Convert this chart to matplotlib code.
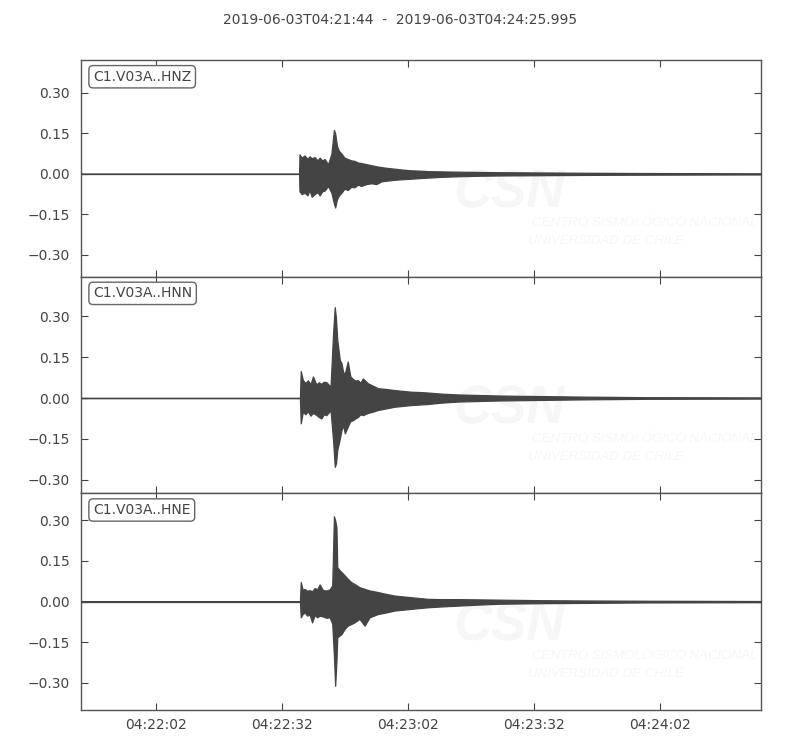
import datetime as dt
import numpy as np
import matplotlib
matplotlib.use("Agg")
import matplotlib.pyplot as plt
import matplotlib.dates as mdates
from matplotlib.ticker import FuncFormatter, FixedLocator

# ---------------- data (seconds after 2019-06-03T04:21:44) ----------------
title = "2019-06-03T04:21:44  -  2019-06-03T04:24:25.995"
channels = ["C1.V03A..HNZ", "C1.V03A..HNN", "C1.V03A..HNE"]
duration = 161.995

hnz_t = [0, 52.0, 52.1, 52.6, 53.3, 54.0, 54.5, 55.0, 55.7, 56.4, 56.9, 57.5, 58.1, 58.9,
         59.7, 60.3, 60.6, 61.0, 61.5, 62.1, 62.8, 63.6, 64.4, 65.2, 66.0, 66.8, 68.0, 69.2,
         70.4, 71.6, 73.0, 74.8, 76.5, 78.7, 80.5, 82.7, 86.0, 89.9, 95, 100, 110, 120, 135, 161.995]
hnz_up = [0, 0, 0.072, 0.060, 0.068, 0.055, 0.065, 0.058, 0.062, 0.050, 0.060, 0.050, 0.055, 0.035,
          0.075, 0.163, 0.150, 0.105, 0.085, 0.075, 0.060, 0.055, 0.050, 0.048, 0.042, 0.040, 0.036, 0.032,
          0.028, 0.025, 0.022, 0.019, 0.016, 0.013, 0.012, 0.010, 0.009, 0.008, 0.007, 0.006, 0.005, 0.004, 0.003, 0.002]
hnz_lo = [0, 0, -0.065, -0.075, -0.070, -0.080, -0.060, -0.085, -0.075, -0.068, -0.080, -0.065, -0.062, -0.045,
          -0.070, -0.110, -0.125, -0.095, -0.080, -0.070, -0.055, -0.060, -0.048, -0.050, -0.040, -0.045, -0.038, -0.035,
          -0.038, -0.028, -0.025, -0.022, -0.020, -0.018, -0.016, -0.014, -0.011, -0.009, -0.007, -0.006, -0.005, -0.004, -0.003, -0.002]

hnn_t = [0, 52.2, 52.4, 52.9, 53.5, 54.1, 54.7, 55.3, 56.1, 56.7, 57.3, 57.9, 58.5, 59.5,
         60.1, 60.5, 60.8, 61.1, 61.7, 62.1, 62.5, 62.9, 63.6, 64.2, 64.8, 65.4, 66.0, 66.6, 67.2,
         68.4, 69.6, 70.8, 72.8, 74.8, 76.8, 78.7, 80.7, 82.7, 86, 89.9, 95, 100, 110, 120, 135, 161.995]
hnn_up = [0, 0, 0.099, 0.066, 0.055, 0.065, 0.050, 0.079, 0.050, 0.058, 0.052, 0.060, 0.058, 0.042,
          0.238, 0.334, 0.290, 0.213, 0.140, 0.128, 0.095, 0.090, 0.134, 0.080, 0.070, 0.064, 0.066, 0.056, 0.072,
          0.054, 0.045, 0.036, 0.033, 0.029, 0.026, 0.023, 0.022, 0.020, 0.016, 0.013, 0.011, 0.009, 0.007, 0.005, 0.003, 0.002]
hnn_lo = [0, 0, -0.093, -0.050, -0.060, -0.048, -0.065, -0.055, -0.062, -0.070, -0.075, -0.060, -0.063, -0.045,
          -0.155, -0.253, -0.240, -0.191, -0.150, -0.118, -0.100, -0.130, -0.105, -0.085, -0.082, -0.075, -0.070, -0.060, -0.063,
          -0.055, -0.050, -0.044, -0.038, -0.032, -0.029, -0.026, -0.024, -0.022, -0.017, -0.013, -0.011, -0.009, -0.007, -0.005, -0.003, -0.002]

hne_t = [0, 52.2, 52.4, 52.9, 53.3, 53.9, 54.5, 55.1, 55.7, 56.3, 56.9, 57.7, 58.5, 59.3, 59.9,
         60.3, 60.6, 60.9, 61.1, 61.7, 62.1, 62.9, 63.6, 64.4, 65.2, 66.4, 67.6, 68.8, 70.8, 72.8,
         74.8, 76.8, 78.7, 80.7, 82.7, 86, 89.9, 95, 100, 110, 120, 135, 161.995]
hne_up = [0, 0, 0.072, 0.041, 0.047, 0.040, 0.042, 0.038, 0.050, 0.045, 0.063, 0.042, 0.041, 0.045, 0.060,
          0.315, 0.300, 0.275, 0.127, 0.115, 0.109, 0.096, 0.084, 0.072, 0.065, 0.053, 0.047, 0.041, 0.035, 0.028,
          0.022, 0.019, 0.016, 0.013, 0.010, 0.009, 0.009, 0.008, 0.007, 0.005, 0.004, 0.003, 0.002]
hne_lo = [0, 0, -0.058, -0.045, -0.040, -0.052, -0.048, -0.077, -0.050, -0.058, -0.052, -0.055, -0.060, -0.058, -0.082,
          -0.200, -0.311, -0.219, -0.132, -0.125, -0.120, -0.100, -0.089, -0.083, -0.077, -0.064, -0.089, -0.058, -0.046, -0.040,
          -0.033, -0.030, -0.027, -0.024, -0.021, -0.018, -0.015, -0.011, -0.008, -0.006, -0.005, -0.003, -0.002]

ylims = [(-0.381, 0.422), (-0.35, 0.446), (-0.40, 0.40)]
yticks = [-0.30, -0.15, 0.00, 0.15, 0.30]

series = [(hnz_t, hnz_up, hnz_lo), (hnn_t, hnn_up, hnn_lo), (hne_t, hne_up, hne_lo)]

# ---------------- plotting ----------------
plt.rcParams['font.family'] = ['DejaVu Sans']
GREY = '#444444'
WM = '#f6f6f6'
start = dt.datetime(2019, 6, 3, 4, 21, 44)
start_num = mdates.date2num(start)

fig = plt.figure(figsize=(8, 7.5), dpi=100)
left, right, top, bottom = 0.101, 0.951, 0.92, 0.0535
h = (top - bottom) / 3.0

fmt = FuncFormatter(lambda v, p: ("%.2f" % v).replace('-', '\u2212'))

axes = []
for i, (name, (t, up, lo)) in enumerate(zip(channels, series)):
    ax = fig.add_axes([left, top - (i + 1) * h, right - left, h])
    axes.append(ax)
    x = start_num + np.array(t) / 86400.0
    ax.fill_between(x, up, lo, color=GREY, linewidth=0.9, edgecolor=GREY, zorder=3)
    ax.plot(x, np.zeros(len(x)), color=GREY, linewidth=0.9, zorder=3)
    ax.set_xlim(start_num, start_num + duration / 86400.0)
    ax.set_ylim(*ylims[i])
    ax.yaxis.set_major_locator(FixedLocator(yticks))
    ax.yaxis.set_major_formatter(fmt)
    ax.xaxis.set_major_locator(mdates.SecondLocator(bysecond=[2, 32]))
    ax.xaxis.set_major_formatter(mdates.DateFormatter('%H:%M:%S'))
    ax.tick_params(direction='in', top=True, right=True, length=5, width=0.8,
                   colors=GREY, labelsize=10, pad=6)
    ax.tick_params(axis='y', pad=8)
    for s in ax.spines.values():
        s.set_color('#555555')
        s.set_linewidth(1.0)
    if i < 2:
        ax.tick_params(labelbottom=False)
    # faint watermark
    ax.text(0.548, 0.32, "CSN", transform=ax.transAxes, fontsize=38, fontweight='bold',
            fontstyle='italic', color=WM, ha='left', va='baseline', zorder=1, clip_on=True,
            family=['Liberation Sans', 'DejaVu Sans'])
    ax.text(0.663, 0.249, "CENTRO SISMOLÓGICO NACIONAL", transform=ax.transAxes, fontsize=9.5,
            fontstyle='italic', color=WM, ha='left', va='center', zorder=1, clip_on=True,
            family=['Liberation Sans', 'DejaVu Sans'])
    ax.text(0.657, 0.166, "UNIVERSIDAD DE CHILE", transform=ax.transAxes, fontsize=9.5,
            fontstyle='italic', color=WM, ha='left', va='center', zorder=1, clip_on=True,
            family=['Liberation Sans', 'DejaVu Sans'])
    ax.text(0.018, 0.955, name, transform=ax.transAxes, ha='left', va='top', fontsize=10,
            color=GREY, zorder=5,
            bbox=dict(boxstyle='round,pad=0.3', facecolor='white', edgecolor='#666666', linewidth=1.0))

fig.text(0.5, 0.973, title, ha='center', va='center', fontsize=10, color=GREY)
fig.savefig("out.png", dpi=100, facecolor='white')
